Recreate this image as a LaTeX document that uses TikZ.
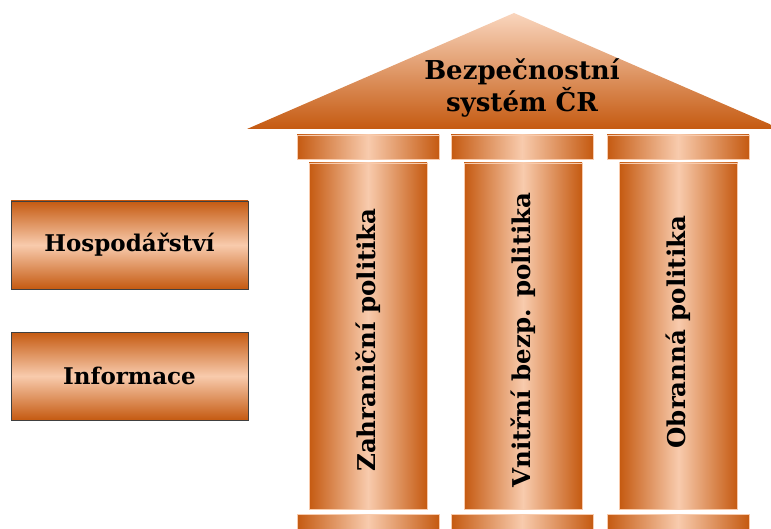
\documentclass[tikz,border=0pt]{standalone}
\usepackage{fontspec}
\setmainfont{DejaVu Serif}
\usepackage{tikz}
\usetikzlibrary{calc}
\definecolor{PillarDark}{RGB}{197, 90, 17}
\definecolor{PillarLight}{RGB}{248, 203, 173}

\tikzset{
    hshade/.style={left color=PillarDark, right color=PillarDark, middle color=PillarLight},
    vshade/.style={top color=PillarDark, bottom color=PillarDark, middle color=PillarLight},
    pillar/.style={hshade, draw=PillarLight, line width=0.6pt, inner sep=0pt, outer sep=0pt, minimum width=118pt, minimum height=346pt},
    capital/.style={hshade, draw=PillarLight, line width=0.6pt, inner sep=0pt, outer sep=0pt, minimum width=142pt, minimum height=24pt},
    sidebox/.style={vshade, draw=black!75, line width=0.8pt, inner sep=0pt, outer sep=0pt, minimum width=237pt, minimum height=88pt, font=\fontsize{23}{27}\selectfont\bfseries},
    pillartext/.style={rotate=90, font=\fontsize{24.5}{28}\selectfont\bfseries}
}

\begin{document}
\begin{tikzpicture}[x=1pt, y=-1pt]
        \useasboundingbox (0,0) rectangle (771,529);

        % Roof
        \shade[top color=PillarLight!80!white, bottom color=PillarDark] (247,129) -- (514,13) -- (781,129) -- cycle;
        \node[align=center, font=\fontsize{26}{32}\selectfont\bfseries] (roof) at (522,88) {Bezpečnostní\\systém ČR};

        % Capitals
        \node[capital] (capleft) at (368,147) {};
        \node[capital] (capmid) at (522,147) {};
        \node[capital] (capright) at (678,147) {};

        % Pillars
        \node[pillar] (zahr) at (368,336) {};
        \node[pillar] (vnitr) at (523,336) {};
        \node[pillar] (obran) at (678.5,336) {};
        \node[pillartext] (zahrtext) at (zahr.center |- 0,340) {Zahraniční politika};
        \node[pillartext] (vnitrtext) at (vnitr.center |- 0,340) {Vnitřní bezp. politika};
        \node[pillartext] (obrantext) at (obran.center |- 0,332) {Obranná politika};

        % Bases
        \node[capital] (baseleft) at (368,526) {};
        \node[capital] (basemid) at (522,526) {};
        \node[capital] (baseright) at (678,526) {};

        % Side boxes
        \node[sidebox] (hosp) at (129.5,245) {Hospodářství};
        \node[sidebox] (info) at (129.5,376) {Informace};
    \end{tikzpicture}
\end{document}
